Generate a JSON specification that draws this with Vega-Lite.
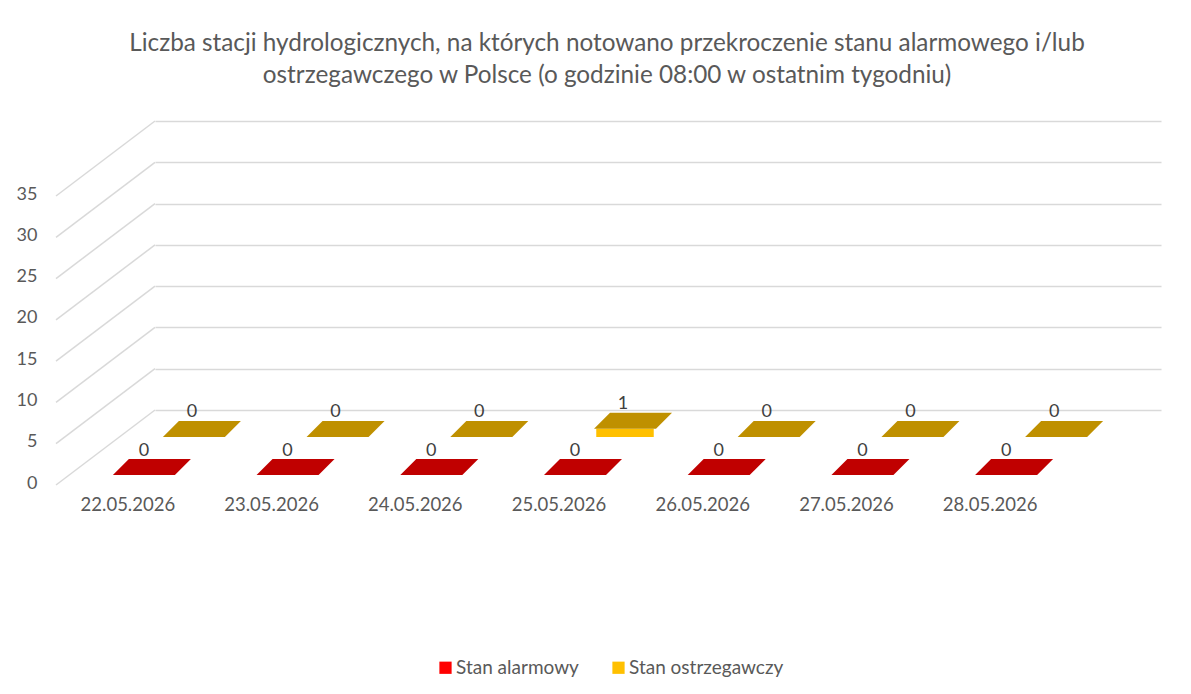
{
  "$schema": "https://vega.github.io/schema/vega-lite/v6.json",
  "width": 1006,
  "height": 289,
  "autosize": {"type": "none"},
  "padding": {"left": 155, "top": 121, "right": 30, "bottom": 284},
  "background": "white",
  "title": {
    "text": ["Liczba stacji hydrologicznych, na których notowano przekroczenie stanu alarmowego i/lub", "ostrzegawczego w Polsce (o godzinie 08:00 w ostatnim tygodniu)"],
    "font": "Lato",
    "fontSize": 24.3,
    "fontWeight": "normal",
    "color": "#595959",
    "anchor": "middle",
    "frame": "group",
    "dx": -51,
    "offset": 32,
    "lineHeight": 32
  },
  "config": {
    "view": {"stroke": null},
    "font": "Lato",
    "axisX": {"domain": false, "ticks": false, "grid": false, "labelOffset": -99, "labelPadding": 85, "labelFontSize": 18.5, "labelColor": "#595959", "labelAngle": 0, "title": null},
    "axisY": {"domain": false, "ticks": false, "grid": true, "gridColor": "#d9d9d9", "gridWidth": 1.5, "labelOffset": 73, "labelPadding": 118, "labelFontSize": 18, "labelColor": "#595959", "title": null}
  },
  "datasets": {
    "counts": [
      {"date": "22.05.2026", "series": "Stan alarmowy", "value": 0},
      {"date": "23.05.2026", "series": "Stan alarmowy", "value": 0},
      {"date": "24.05.2026", "series": "Stan alarmowy", "value": 0},
      {"date": "25.05.2026", "series": "Stan alarmowy", "value": 0},
      {"date": "26.05.2026", "series": "Stan alarmowy", "value": 0},
      {"date": "27.05.2026", "series": "Stan alarmowy", "value": 0},
      {"date": "28.05.2026", "series": "Stan alarmowy", "value": 0},
      {"date": "22.05.2026", "series": "Stan ostrzegawczy", "value": 0},
      {"date": "23.05.2026", "series": "Stan ostrzegawczy", "value": 0},
      {"date": "24.05.2026", "series": "Stan ostrzegawczy", "value": 0},
      {"date": "25.05.2026", "series": "Stan ostrzegawczy", "value": 1},
      {"date": "26.05.2026", "series": "Stan ostrzegawczy", "value": 0},
      {"date": "27.05.2026", "series": "Stan ostrzegawczy", "value": 0},
      {"date": "28.05.2026", "series": "Stan ostrzegawczy", "value": 0}
    ],
    "ticks": [{"t": 0}, {"t": 5}, {"t": 10}, {"t": 15}, {"t": 20}, {"t": 25}, {"t": 30}, {"t": 35}]
  },
  "layer": [
    {
      "data": {"name": "ticks"},
      "mark": {"type": "rule", "color": "#d9d9d9", "strokeWidth": 1.5, "x2Offset": -99, "y2Offset": 75},
      "encoding": {
        "x": {"datum": "22.05.2026", "type": "nominal", "bandPosition": 0, "scale": {"domain": ["22.05.2026", "23.05.2026", "24.05.2026", "25.05.2026", "26.05.2026", "27.05.2026", "28.05.2026"], "paddingInner": 0, "paddingOuter": 0}},
        "x2": {"datum": "22.05.2026", "bandPosition": 0},
        "y": {"field": "t", "type": "quantitative", "scale": {"domain": [0, 35], "nice": false}, "axis": {"values": [0, 5, 10, 15, 20, 25, 30, 35]}},
        "y2": {"field": "t"}
      }
    },
    {
      "data": {"name": "counts"},
      "transform": [{"filter": "datum.series === 'Stan ostrzegawczy'"}],
      "mark": {"type": "bar", "width": {"band": 0.4}, "xOffset": -33, "yOffset": 27, "y2Offset": 27},
      "encoding": {
        "x": {"field": "date", "type": "nominal", "sort": null},
        "y": {"field": "value", "type": "quantitative", "stack": null},
        "y2": {"datum": 0},
        "color": {"field": "series", "type": "nominal", "scale": {"domain": ["Stan alarmowy", "Stan ostrzegawczy"], "range": ["#FF0000", "#FFC000"]},
          "legend": {"orient": "none", "legendX": 281, "legendY": 537, "direction": "horizontal", "title": null, "symbolType": "square", "symbolSize": 150, "symbolStrokeWidth": 0, "labelFontSize": 19, "labelColor": "#595959", "labelOffset": 1, "columnPadding": 30}}
      }
    },
    {
      "data": {"name": "counts"},
      "transform": [{"filter": "datum.series === 'Stan ostrzegawczy'"}],
      "mark": {"type": "point", "shape": "M-0.975,0.2 L0.575,0.2 L0.975,-0.2 L-0.575,-0.2 Z", "size": 6400, "filled": true, "opacity": 1, "fill": "#BF9000", "strokeWidth": 0, "xOffset": -25, "yOffset": 19},
      "encoding": {
        "x": {"field": "date", "type": "nominal", "sort": null},
        "y": {"field": "value", "type": "quantitative"}
      }
    },
    {
      "data": {"name": "counts"},
      "transform": [{"filter": "datum.series === 'Stan ostrzegawczy'"}],
      "mark": {"type": "text", "fontSize": 18, "color": "#404040", "dx": -35, "dy": 2, "baseline": "middle"},
      "encoding": {
        "x": {"field": "date", "type": "nominal", "sort": null},
        "y": {"field": "value", "type": "quantitative"},
        "text": {"field": "value", "type": "quantitative"}
      }
    },
    {
      "data": {"name": "counts"},
      "transform": [{"filter": "datum.series === 'Stan alarmowy'"}],
      "mark": {"type": "bar", "width": {"band": 0.4}, "xOffset": -83, "yOffset": 65, "y2Offset": 65},
      "encoding": {
        "x": {"field": "date", "type": "nominal", "sort": null},
        "y": {"field": "value", "type": "quantitative", "stack": null},
        "y2": {"datum": 0},
        "color": {"field": "series", "type": "nominal"}
      }
    },
    {
      "data": {"name": "counts"},
      "transform": [{"filter": "datum.series === 'Stan alarmowy'"}],
      "mark": {"type": "point", "shape": "M-0.975,0.2 L0.575,0.2 L0.975,-0.2 L-0.575,-0.2 Z", "size": 6400, "filled": true, "opacity": 1, "fill": "#C00000", "strokeWidth": 0, "xOffset": -75, "yOffset": 57},
      "encoding": {
        "x": {"field": "date", "type": "nominal", "sort": null},
        "y": {"field": "value", "type": "quantitative"}
      }
    },
    {
      "data": {"name": "counts"},
      "transform": [{"filter": "datum.series === 'Stan alarmowy'"}],
      "mark": {"type": "text", "fontSize": 18, "color": "#404040", "dx": -83, "dy": 41, "baseline": "middle"},
      "encoding": {
        "x": {"field": "date", "type": "nominal", "sort": null},
        "y": {"field": "value", "type": "quantitative"},
        "text": {"field": "value", "type": "quantitative"}
      }
    }
  ]
}
